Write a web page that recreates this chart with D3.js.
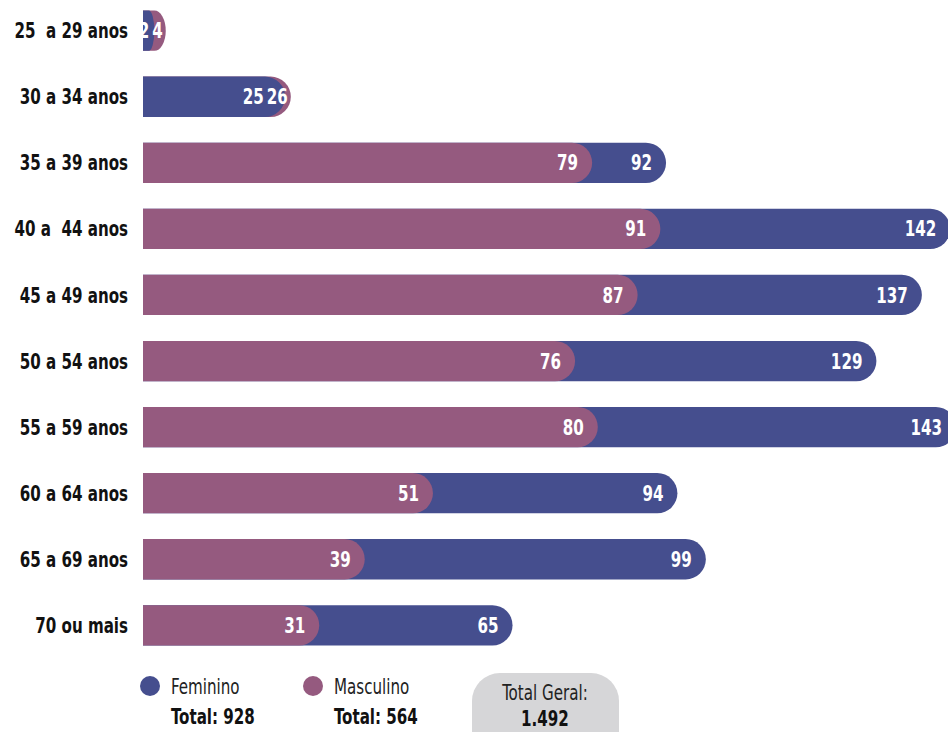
<!DOCTYPE html>
<html>
<head>
<meta charset="utf-8">
<script src="https://cdn.jsdelivr.net/npm/d3@7"></script>
<style>
  body { margin: 0; background: #fff; }
  svg { display: block; font-family: "DejaVu Sans Condensed", "DejaVu Sans", sans-serif; }
  .rowLabel { font-size: 21px; font-weight: bold; fill: #111; }
  .valLabel { font-size: 21px; font-weight: bold; fill: #fff; }
</style>
</head>
<body>
<div id="chart"></div>
<script>
// data
var faixas = ["25  a 29 anos", "30 a 34 anos", "35 a 39 anos", "40 a  44 anos", "45 a 49 anos",
              "50 a 54 anos", "55 a 59 anos", "60 a 64 anos", "65 a 69 anos", "70 ou mais"];
var feminino = [2, 25, 92, 142, 137, 129, 143, 94, 99, 65];
var masculino = [4, 26, 79, 91, 87, 76, 80, 51, 39, 31];
var totalFem = "928";
var totalMasc = "564";
var totalGeral = "1.492";

var colors = { fem: "#454e8e", masc: "#955a7f" };
var squeezeK = 0.8; // narrow the font horizontally

var svgWidth = 948, svgHeight = 732;
var svg = d3.select("#chart").append("svg")
            .attr("width", svgWidth)
            .attr("height", svgHeight);

// squeeze a text horizontally around its own x position
function squeeze(sel) {
    sel.attr("transform", function() {
        var x = +d3.select(this).attr("x");
        return `translate(${x},0) scale(${squeezeK},1) translate(${-x},0)`;
    });
}

var data = faixas.map(function(f, i) {
    return { faixa: f, fem: feminino[i], masc: masculino[i] };
});

// scales
var xScale = d3.scaleLinear().domain([0, 143]).range([143, 956]);
var yScale = d3.scaleBand().domain(faixas).range([-2, 658]).paddingInner(0.39).paddingOuter(0.19);
var barH = yScale.bandwidth();

// bar with a rounded right end
function roundBar(x0, x1, y, h) {
    var r = Math.min(h / 2, Math.max(0, (x1 - x0) / 2));
    return "M" + x0 + "," + y + "H" + (x1 - r) +
           "A" + r + "," + h / 2 + " 0 0 1 " + (x1 - r) + "," + (y + h) +
           "H" + x0 + "Z";
}

var rows = svg.selectAll(".row").data(data).enter().append("g")
              .attr("class", "row")
              .attr("transform", d => `translate(0, ${yScale(d.faixa)})`);

rows.each(function(d) {
    var g = d3.select(this);
    var pair = [{ key: "fem", v: d.fem }, { key: "masc", v: d.masc }];
    pair.sort((a, b) => b.v - a.v); // larger one behind
    var back = pair[0], front = pair[1];
    pair.forEach(function(p) {
        g.append("path")
         .attr("d", roundBar(xScale(0), xScale(p.v), 0, barH))
         .attr("fill", colors[p.key]);
    });

    var backEnd = xScale(back.v), frontEnd = xScale(front.v);
    var backX = backEnd - (backEnd - frontEnd < 30 ? 3 : 14);
    var backT = g.append("text")
         .attr("class", "valLabel")
         .attr("x", backX)
         .attr("y", barH / 2)
         .attr("dy", "0.36em")
         .attr("text-anchor", "end")
         .text(back.v)
         .call(squeeze);
    var backW = backT.node().getComputedTextLength() * squeezeK;
    var frontX = Math.min(frontEnd - (frontEnd - xScale(0) < 30 ? 1 : 14), backX - backW - 3);
    g.append("text")
     .attr("class", "valLabel")
     .attr("x", frontX)
     .attr("y", barH / 2)
     .attr("dy", "0.36em")
     .attr("text-anchor", "end")
     .text(front.v)
     .call(squeeze);
});

// category labels
svg.selectAll(".rowLabel").data(faixas).enter().append("text")
   .attr("class", "rowLabel")
   .attr("x", 128)
   .attr("y", d => yScale(d) + barH / 2)
   .attr("dy", "0.36em")
   .attr("text-anchor", "end")
   .style("white-space", "pre")
   .text(d => d)
   .call(squeeze);

// legend
var legend = [
    { name: "Feminino", total: totalFem, color: colors.fem, x: 150 },
    { name: "Masculino", total: totalMasc, color: colors.masc, x: 313 }
];
var lg = svg.selectAll(".legend").data(legend).enter().append("g").attr("class", "legend");
lg.append("circle").attr("cx", d => d.x).attr("cy", 686).attr("r", 10).attr("fill", d => d.color);
lg.append("text").attr("x", d => d.x + 21).attr("y", 694)
  .style("font-size", "21px").attr("fill", "#222").text(d => d.name).call(squeeze);
lg.append("text").attr("x", d => d.x + 21).attr("y", 724)
  .style("font-size", "21px").style("font-weight", "bold").attr("fill", "#111")
  .text(d => "Total: " + d.total).call(squeeze);

// total geral box
svg.append("rect").attr("x", 472).attr("y", 673).attr("width", 147).attr("height", 90)
   .attr("rx", 28).attr("fill", "#d6d6d8");
svg.append("text").attr("x", 545).attr("y", 700).attr("text-anchor", "middle")
   .style("font-size", "21px").attr("fill", "#222").text("Total Geral:").call(squeeze);
svg.append("text").attr("x", 545).attr("y", 726).attr("text-anchor", "middle")
   .style("font-size", "21px").style("font-weight", "bold").attr("fill", "#111").text(totalGeral).call(squeeze);
</script>
</body>
</html>
